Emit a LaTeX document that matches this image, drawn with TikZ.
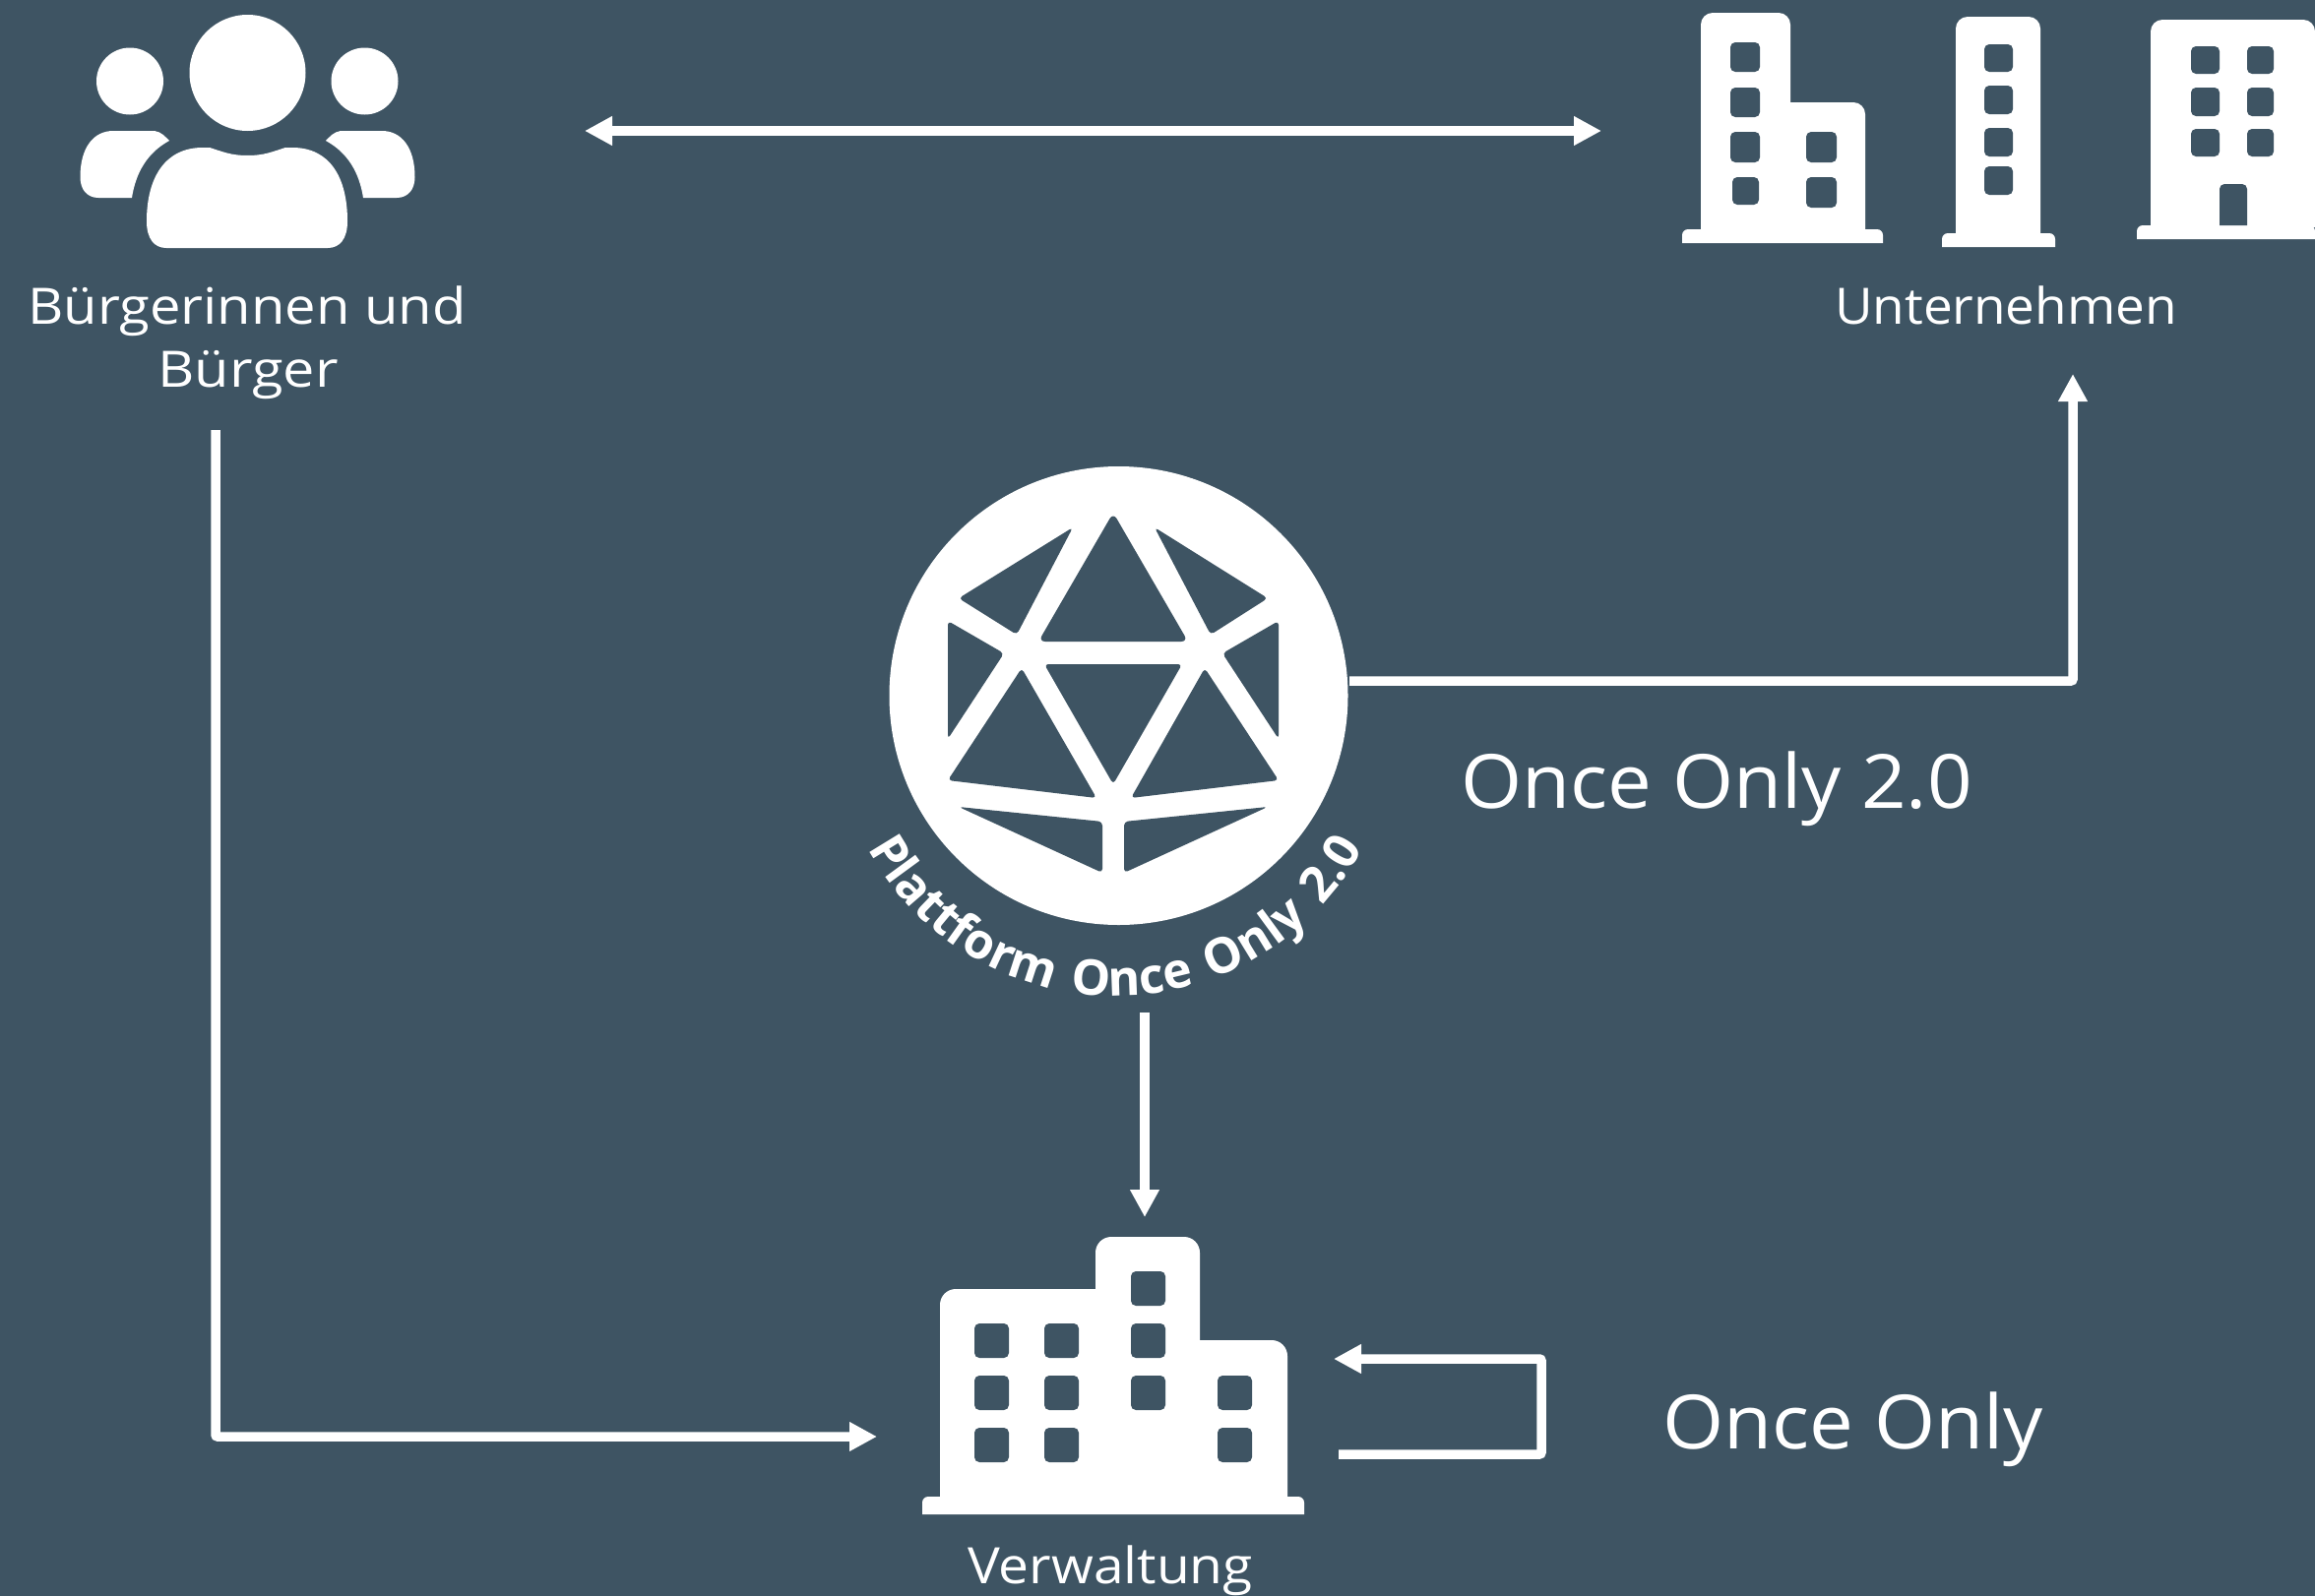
\documentclass[tikz,border=0pt]{standalone}
\usepackage{fontspec}
\setmainfont{Open Sans}
\usetikzlibrary{arrows.meta,decorations.text}
\definecolor{bgc}{HTML}{3E5463}
\newcommand\win[4]{\fill[bgc,rounded corners=2.5pt] (#1,#2) rectangle (#3,#4);}
\newcommand\basep[4]{\fill[white] (#1,#4) [rounded corners=3pt] -- (#1,#2) -- (#3,#2) [sharp corners] -- (#3,#4) -- cycle;}
\newcommand\facet[3]{\fill[bgc,rounded corners=2pt,line join=round] #1 -- #2 -- #3 -- cycle;}
\newfontfamily\curvefont[LetterSpace=12]{Open Sans}
\tikzset{
  link/.style={draw=white,line width=4.75pt,rounded corners=1pt},
  headed/.style={-{Triangle[length=14pt,width=14pt]}},
  bothheaded/.style={{Triangle[length=14pt,width=14pt]}-{Triangle[length=14pt,width=14pt]}},
  label/.style={text=white,font=\fontsize{25.5pt}{30pt}\selectfont,anchor=base,inner sep=0pt,transform shape},
  biglabel/.style={text=white,font=\fontsize{38pt}{44pt}\selectfont,anchor=base west,inner sep=0pt,xscale=1.05,transform shape}
}
\begin{document}
\begin{tikzpicture}[x=0.5pt,y=-0.5pt]
\useasboundingbox (0,0) rectangle (2352,1622);
\fill[bgc] (0,0) rectangle (2352,1622);

% people
\fill[white] (251.5,74) circle[radius=29.5pt];
\fill[white] (132,82.5) circle[radius=17pt];
\fill[white] (370.5,82.5) circle[radius=17pt];
\fill[white] (149,225) .. controls (149,180) and (168,150) .. (206,150) -- (213,150)
  .. controls (226,154) and (234,158) .. (251.5,158)
  .. controls (269,158) and (277,154) .. (290,150) -- (297,150)
  .. controls (335,150) and (353,180) .. (353,225)
  .. controls (353,243) and (345,252) .. (333,252) -- (169,252)
  .. controls (157,252) and (149,243) .. (149,225) -- cycle;
\fill[white] (81.5,180) .. controls (81.5,150) and (95,133) .. (115,133) -- (157,133)
  .. controls (164,134) and (168,139) .. (172,143)
  .. controls (150,155) and (138,175) .. (134,201) -- (100,201)
  .. controls (88,201) and (81.5,192) .. (81.5,180) -- cycle;
\fill[white] (421.5,180) .. controls (421.5,150) and (408,133) .. (388,133) -- (346,133)
  .. controls (339,134) and (335,139) .. (331,143)
  .. controls (353,155) and (365,175) .. (369,201) -- (403,201)
  .. controls (415,201) and (421.5,192) .. (421.5,180) -- cycle;

% company building 1
\basep{1709}{233}{1913}{247}
\fill[white] (1728,235) [rounded corners=6pt] -- (1728,13) -- (1819,13) [sharp corners] -- (1819,104) [rounded corners=6pt] -- (1895,104) [sharp corners] -- (1895,235) -- cycle;
\win{1758}{43}{1788}{73}\win{1758}{89}{1788}{119}\win{1758}{134}{1788}{165}\win{1760}{180}{1787}{208}
\win{1835}{134}{1866}{165}\win{1835}{180}{1866}{211}
% company building 2
\basep{1973}{237}{2088}{251}
\fill[white] (1987,239) [rounded corners=6pt] -- (1987,17) -- (2073,17) [sharp corners] -- (2073,239) -- cycle;
\win{2016}{45}{2045}{73}\win{2016}{87}{2045}{116}\win{2016}{130}{2045}{159}\win{2016}{169}{2045}{198}
% company building 3
\basep{2171}{229}{2352}{243}
\fill[white] (2185,231) [rounded corners=6pt] -- (2185,20) -- (2352,20) [sharp corners] -- (2352,231) -- cycle;
\win{2226}{47}{2255}{75}\win{2283}{47}{2310}{75}
\win{2226}{89}{2255}{118}\win{2283}{89}{2310}{118}
\win{2226}{131}{2255}{159}\win{2283}{131}{2310}{159}
\fill[bgc] (2255,229) [rounded corners=2.5pt] -- (2255,187) -- (2283,187) [sharp corners] -- (2283,229) -- cycle;

% administration building
\basep{937}{1521}{1325}{1539}
\fill[white] (955,1523) [rounded corners=8pt] -- (955,1310) [sharp corners] -- (1113,1310) [rounded corners=8pt] -- (1113,1257) -- (1219,1257) [sharp corners] -- (1219,1362) [rounded corners=8pt] -- (1308,1362) [sharp corners] -- (1308,1523) -- cycle;
\win{990}{1345}{1025}{1380}\win{990}{1398}{1025}{1433}\win{990}{1451}{1025}{1486}
\win{1061}{1345}{1096}{1380}\win{1061}{1398}{1096}{1433}\win{1061}{1451}{1096}{1486}
\win{1149}{1292}{1184}{1327}\win{1149}{1345}{1184}{1380}\win{1149}{1398}{1184}{1433}
\win{1237}{1398}{1272}{1433}\win{1237}{1451}{1272}{1486}

% logo
\fill[white] (1136.5,707) circle[radius=116.5pt];
\fill[bgc,rounded corners=3.5pt] (1131,521) -- (1055,652) -- (1207,652) -- cycle;
\facet{(1090,536)}{(974,608)}{(1033,645)}
\facet{(1173,536)}{(1288,608)}{(1230,645)}
\facet{(963,631)}{(1020,664)}{(963,751)}
\facet{(1299,631)}{(1242,664)}{(1299,751)}
\facet{(1061,675)}{(1201,675)}{(1131,797)}
\facet{(1038,679)}{(963,793)}{(1114,811)}
\facet{(1224,679)}{(1299,793)}{(1149,811)}
\facet{(974,820)}{(1120,835)}{(1120,887)}
\facet{(1288,820)}{(1142,835)}{(1142,887)}
\begin{scope}[shift={(1133,726)},x=0.5pt,y=0.5pt]
\path[decorate,decoration={text along path,text align=center,
  text={|\curvefont\bfseries\fontsize{25pt}{30pt}\selectfont\color{white}|Plattform Once Only 2.0}}]
  (200:286) arc[start angle=200,end angle=340,radius=286];
\end{scope}

% labels
\node[label,xscale=1.10] (citizens1) at (251,329) {Bürgerinnen und};
\node[label,xscale=1.13] (citizens2) at (252,393) {Bürger};
\node[label,xscale=1.04] (companies) at (2038,329) {Unternehmen};
\node[label,xscale=1.08] (admin) at (1128,1609) {Verwaltung};
\node[biglabel] (oo2) at (1484,821) {Once Only 2.0};
\node[biglabel] (oo1) at (1689,1472) {Once Only};

% connector ends
\coordinate (citizensE) at (594,133);
\coordinate (companiesW) at (1627,133);
\coordinate (citizensS) at (219,437);
\coordinate (bend1) at (219,1460);
\coordinate (adminW) at (891,1460);
\coordinate (logoE) at (1371,692);
\coordinate (bend2) at (2106,692);
\coordinate (companiesS) at (2106,380);
\coordinate (logoS) at (1163,1029);
\coordinate (adminN) at (1163,1237);
\coordinate (loopOut) at (1360,1478);
\coordinate (loopA) at (1566,1478);
\coordinate (loopB) at (1566,1381);
\coordinate (loopIn) at (1355,1381);

\draw[link,bothheaded] (citizensE) -- (companiesW);
\draw[link,headed] (citizensS) -- (bend1) -- (adminW);
\draw[link,headed] (logoE) -- (bend2) -- (companiesS);
\draw[link,headed] (logoS) -- (adminN);
\draw[link,headed] (loopOut) -- (loopA) -- (loopB) -- (loopIn);
\end{tikzpicture}
\end{document}
